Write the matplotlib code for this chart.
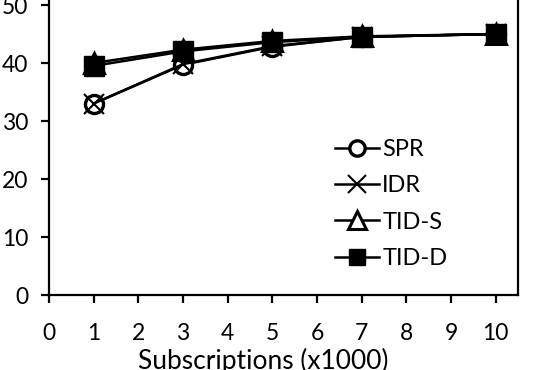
import matplotlib
matplotlib.use('Agg')
import matplotlib.pyplot as plt

plt.rcParams['font.family'] = ['Lato', 'DejaVu Sans']

# Data
subs = [1, 3, 5, 7, 10]
spr = [33.0, 39.7, 42.8, 44.5, 45.0]
idr = [33.0, 39.8, 42.9, 44.5, 45.0]
tid_s = [40.0, 42.3, 43.8, 44.6, 45.0]
tid_d = [39.5, 42.0, 43.6, 44.5, 45.0]

fig = plt.figure(figsize=(5.38, 3.70), dpi=100)
ax = fig.add_axes([0.091, 0.2027, 0.872, 0.9405])

ax.plot(subs, spr, color='black', lw=1.8, marker='o', ms=13, mfc='white', mew=2.4, label='SPR')
ax.plot(subs, idr, color='black', lw=1.8, marker='x', ms=15, mew=1.5, label='IDR')
ax.plot(subs, tid_s, color='black', lw=1.8, marker='^', ms=15, mfc='white', mew=2.2, label='TID-S')
ax.plot(subs, tid_d, color='black', lw=1.8, marker='s', ms=14, mfc='black', label='TID-D')

ax.set_xlim(0, 10.5)
ax.set_ylim(0, 60)
ax.set_xticks(range(0, 11))
ax.set_yticks(range(0, 61, 10))
ax.spines['top'].set_visible(False)
for s in ax.spines.values():
    s.set_linewidth(1.6)
ax.tick_params(direction='out', length=6, width=1.6, labelsize=16.5)
ax.tick_params(axis='x', pad=14)
ax.tick_params(axis='y', pad=9)
ax.set_xlabel('Subscriptions (x1000)', fontsize=19, labelpad=3)
ax.xaxis.label.set_x(0.456)

leg = ax.legend(loc='upper left', bbox_to_anchor=(335 / 538, 1 - 139 / 370),
                bbox_transform=fig.transFigure, frameon=False,
                fontsize=17, handlelength=1.85, handletextpad=0.15,
                labelspacing=0.65, markerscale=0.85, borderaxespad=0, borderpad=0)

plt.savefig('out.png', dpi=100)
